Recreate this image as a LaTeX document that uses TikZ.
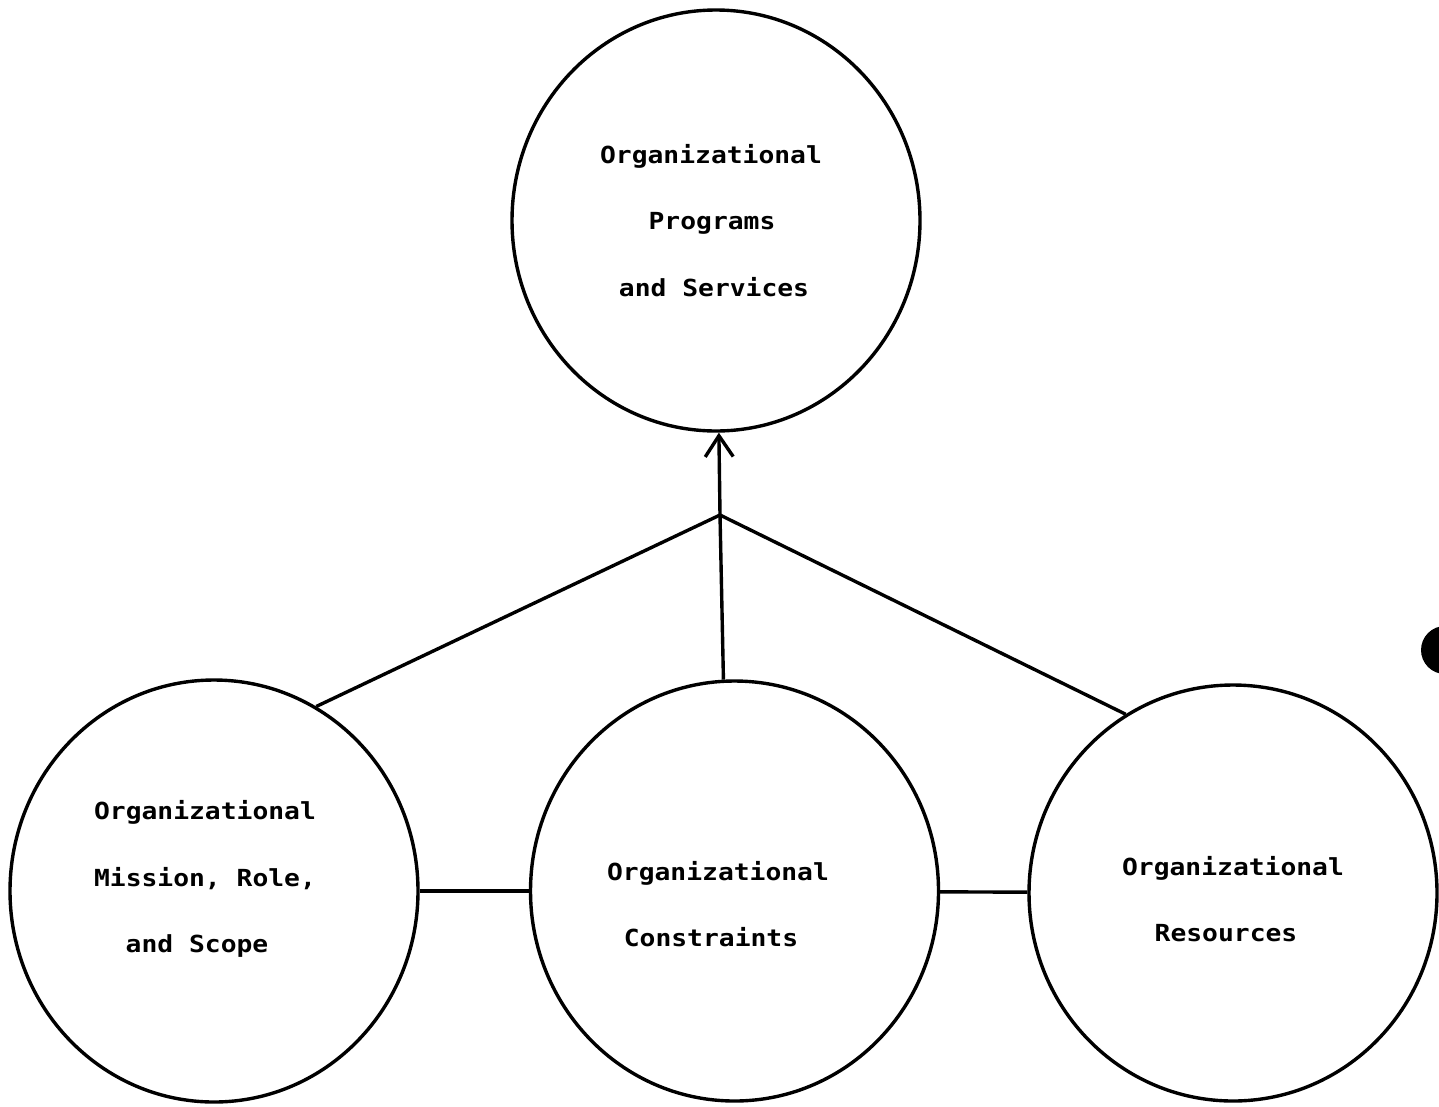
\documentclass[tikz,border=0pt]{standalone}
\usepackage{fontspec}
\newfontfamily\tw{DejaVu Sans Mono Bold}[FakeStretch=1.12]
\usetikzlibrary{arrows.meta,shapes.geometric}
\tikzset{
  bubble/.style={ellipse, draw=black, line width=3.4pt, inner sep=0pt, minimum width=408pt, minimum height=420pt},
  txt/.style={font=\tw\fontsize{23.5}{30}\selectfont, anchor=base, inner sep=0pt},
  link/.style={draw=black, line width=3.4pt},
}
\begin{document}
\begin{tikzpicture}[x=1pt,y=-1pt]
\useasboundingbox (0,0) rectangle (1439,1106);
\fill[white] (0,0) rectangle (1439,1106);
\node[bubble, minimum height=421pt] (T) at (716,220.5) {};
\node[bubble, minimum height=422pt] (L) at (214,891) {};
\node[bubble] (M) at (734.5,891) {};
\node[bubble, minimum height=416pt] (R) at (1233,893) {};
\node[txt] (t1) at (711,163) {Organizational};
\node[txt] (t2) at (712,229.5) {Programs};
\node[txt] (t3) at (714,296) {and Services};
\node[txt] (l1) at (205,819) {Organizational};
\node[txt] (l2) at (205,886) {Mission, Role,};
\node[txt] (l3) at (197,952) {and Scope};
\node[txt] (m1) at (718,880) {Organizational};
\node[txt] (m2) at (711,946) {Constraints};
\node[txt] (r1) at (1233,875) {Organizational};
\node[txt] (r2) at (1226,941) {Resources};
\coordinate (J) at (720,515);
\draw[link] (L.61.8) -- (J);
\draw[link] (R.121) -- (J);
\draw[link] (M.93) -- (J);
\draw[link, -{Straight Barb[length=21pt,width=28pt,line width=3.4pt]}] (J) -- (T);
\draw[link] (L) -- (M);
\draw[link] (M) -- (R);
\fill[black] (1445,650) circle (24pt);
\end{tikzpicture}
\end{document}
